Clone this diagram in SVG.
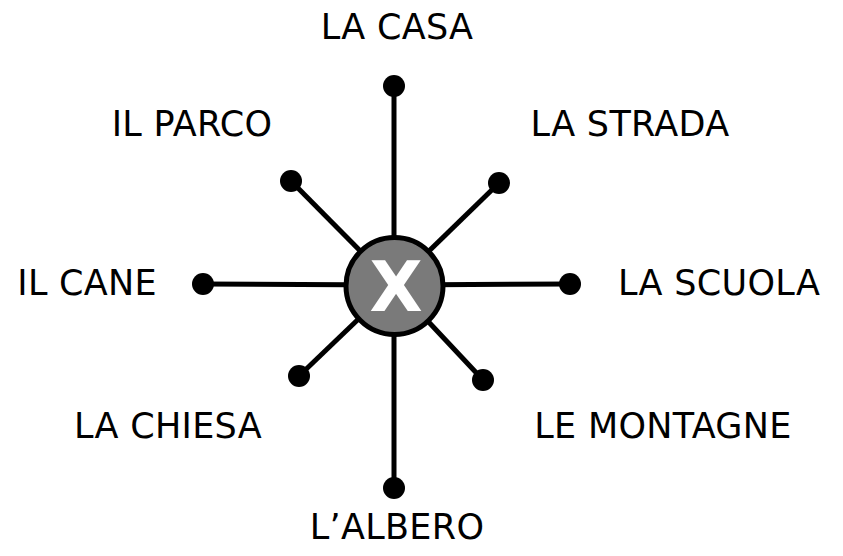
<svg xmlns="http://www.w3.org/2000/svg" width="843" height="556" viewBox="0 0 843 556">
<style>
.lbl{font-family:"DejaVu Sans",Verdana,sans-serif;font-size:35px;letter-spacing:0.3px;fill:#000}
.ln{stroke:#000;stroke-width:5}
.dot{fill:#000}
</style>
<rect width="843" height="556" fill="#fff"/>
<g id="connectors">
<line class="ln" x1="394" y1="285" x2="394" y2="86"/>
<line class="ln" x1="394" y1="285" x2="291" y2="181"/>
<line class="ln" x1="394" y1="285" x2="499" y2="183"/>
<line class="ln" x1="394" y1="285" x2="203" y2="284"/>
<line class="ln" x1="394" y1="285" x2="570" y2="284"/>
<line class="ln" x1="394" y1="285" x2="299" y2="376"/>
<line class="ln" x1="394" y1="285" x2="483" y2="380"/>
<line class="ln" x1="394" y1="285" x2="394" y2="488"/>
</g>
<g id="center">
<circle cx="394.5" cy="286" r="48.5" fill="#7a7a7a" stroke="#000" stroke-width="5"/>
<text x="396" y="311" text-anchor="middle" style="font-family:'DejaVu Sans',Verdana,sans-serif;font-weight:bold;font-size:69px;fill:#fff">X</text>
</g>
<g id="n-casa"><circle class="dot" cx="394" cy="86" r="11"/><text class="lbl" x="397" y="38.5" text-anchor="middle">LA CASA</text></g>
<g id="n-parco"><circle class="dot" cx="291" cy="181" r="11"/><text class="lbl" x="192" y="136" text-anchor="middle">IL PARCO</text></g>
<g id="n-strada"><circle class="dot" cx="499" cy="183" r="11"/><text class="lbl" x="630" y="136" text-anchor="middle">LA STRADA</text></g>
<g id="n-cane"><circle class="dot" cx="203" cy="284" r="11"/><text class="lbl" x="157" y="295" text-anchor="end">IL CANE</text></g>
<g id="n-scuola"><circle class="dot" cx="570" cy="284" r="11"/><text class="lbl" x="618" y="295">LA SCUOLA</text></g>
<g id="n-chiesa"><circle class="dot" cx="299" cy="376" r="11"/><text class="lbl" x="168" y="438" text-anchor="middle">LA CHIESA</text></g>
<g id="n-montagne"><circle class="dot" cx="483" cy="380" r="11"/><text class="lbl" x="663" y="438" text-anchor="middle">LE MONTAGNE</text></g>
<g id="n-albero"><circle class="dot" cx="394" cy="488" r="11"/><text class="lbl" x="397" y="539" text-anchor="middle">L’ALBERO</text></g>
</svg>
